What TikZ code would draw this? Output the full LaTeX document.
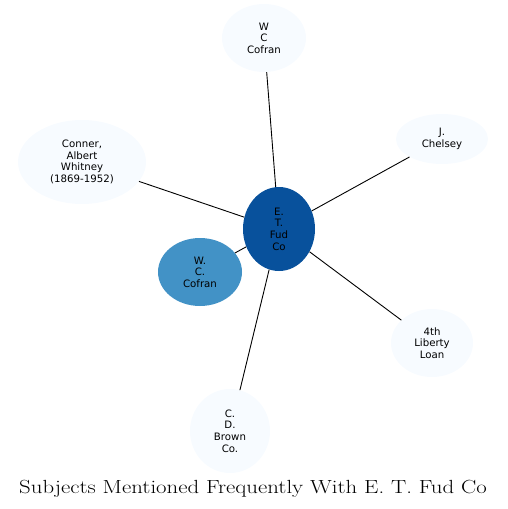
\documentclass[tikz,border=0pt]{standalone}
\usepackage{fontspec}
\usepackage{graphicx}
\newfontfamily\nodefont{DejaVu Sans}
\usetikzlibrary{shapes.geometric}
\definecolor{light}{HTML}{F7FBFF}
\definecolor{mid}{HTML}{4292C6}
\definecolor{dark}{HTML}{08519C}
\tikzset{
  ent/.style={ellipse, fill=light, draw=none, inner sep=0pt, align=center,
    font=\nodefont\fontsize{10.2}{11.6}\selectfont, text=black},
  link/.style={draw=black, line width=0.9pt}
}
\begin{document}
\begin{tikzpicture}[x=1pt,y=-1pt]
\useasboundingbox (0,0) rectangle (507,509);
\node[ent, minimum width=72pt, minimum height=84pt, fill=dark] (c) at (279,229) {E.\\T.\\Fud\\Co};
\node[ent, minimum width=84pt, minimum height=68pt] (wc1) at (264,38) {W\\C\\Cofran};
\node[ent, minimum width=92pt, minimum height=50pt] (jc) at (442,139) {J.\\Chelsey};
\node[ent, minimum width=128pt, minimum height=84pt] (con) at (82,162) {Conner,\\Albert\\Whitney\\(1869-1952)};
\node[ent, minimum width=84pt, minimum height=68pt, fill=mid] (wc2) at (200,272) {W.\\C.\\Cofran};
\node[ent, minimum width=82pt, minimum height=68pt] (lib) at (432,343) {4th\\Liberty\\Loan};
\node[ent, minimum width=80pt, minimum height=84pt] (cd) at (230,431) {C.\\D.\\Brown\\Co.};
\draw[link] (c) -- (wc1);
\draw[link] (c) -- (jc);
\draw[link] (c) -- (con);
\draw[link] (c) -- (wc2);
\draw[link] (c) -- (lib);
\draw[link] (c) -- (cd);
\node[inner sep=0pt, anchor=base, font=\fontsize{19}{22}\selectfont] (title) at (253,493) {\scalebox{1.2}[1]{Subjects Mentioned Frequently With E.~T. Fud Co}};
\end{tikzpicture}
\end{document}
